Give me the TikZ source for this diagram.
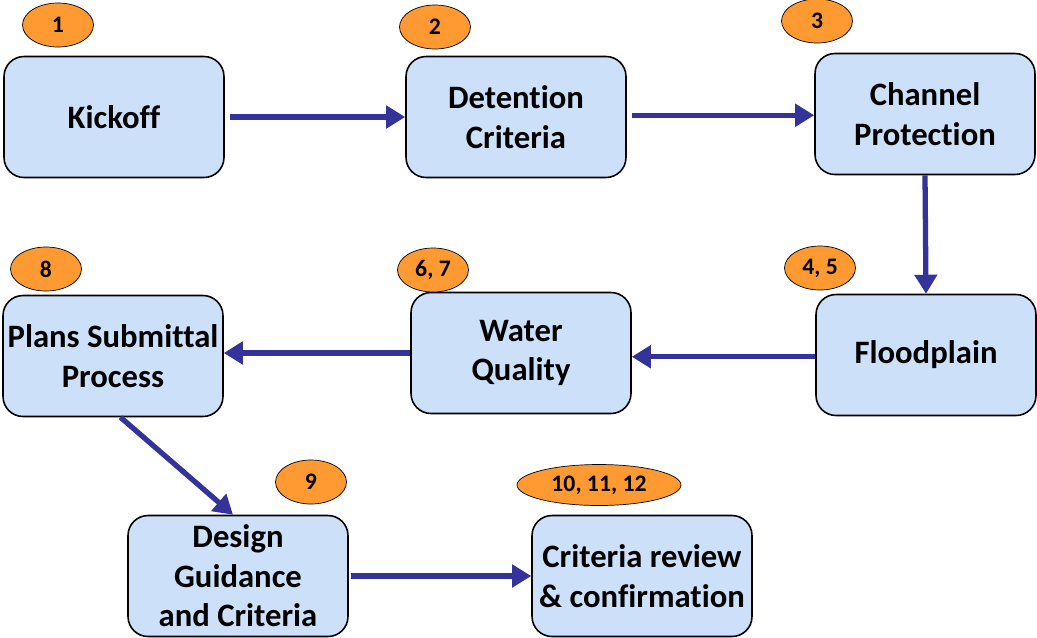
\documentclass[tikz,border=0pt]{standalone}
\usepackage{fontspec}
\setmainfont[Ligatures=NoCommon]{Carlito}
\definecolor{colorTask}{HTML}{CCE0FA}
\definecolor{colorStep}{HTML}{FF9A33}
\definecolor{colorFlow}{HTML}{333399}
\usetikzlibrary{arrows.meta, positioning, shapes.geometric}
\tikzset{
  task/.style={draw, line width=0.9pt, rounded corners=0.4cm, fill=colorTask, minimum width=4.4cm, minimum height=2.42cm, inner sep=1.5pt, align=center, font=\fontsize{18.6}{22.5}\selectfont\bfseries},
  stepno/.style={draw, ellipse, fill=colorStep, minimum width=1.42cm, minimum height=0.88cm, inner sep=0pt, font=\fontsize{13.5}{15}\selectfont\bfseries},
  flow/.style={-{Triangle[length=0.38cm, width=0.44cm]}, colorFlow, line width=3pt}
}

\begin{document}
\begin{tikzpicture}[x=0.02cm, y=-0.02cm]
\useasboundingbox (0,0) rectangle (1037,637);
% process steps
\node[task] (kickoff) at (114,117) {Kickoff};
\node[task] (detention) at (516,117) {Detention\\Criteria};
\node[task] (channel) at (925,114) {Channel\\Protection};
\node[task] (floodplain) at (926,355) {Floodplain};
\node[task] (quality) at (521,353) {Water\\Quality};
\node[task] (plans) at (113,356) {Plans Submittal\\Process};
\node[task] (design) at (238,576) {Design\\Guidance\\and Criteria};
\node[task] (review) at (642,576) {Criteria review\\\& confirmation};
% step numbers
\node[stepno] (n1) at (58,25) {1};
\node[stepno] (n2) at (435,27) {2};
\node[stepno] (n3) at (817,21) {3};
\node[stepno] (n45) at (820,268) {4, 5};
\node[stepno] (n67) at (433,270) {6, 7};
\node[stepno] (n8) at (46,269) {8};
\node[stepno] (n9) at (311,482) {9};
\node[stepno, minimum width=3.28cm, minimum height=0.82cm] (n1012) at (599,485) {10, 11, 12};
% flow
\draw[flow, shorten <=0.1cm] (kickoff.east) -- (kickoff.east -| detention.west);
\draw[flow, shorten <=0.1cm] ([yshift=1pt]detention.east) -- ([yshift=1pt]detention.east -| channel.west);
\draw[flow] (channel.south) -- (floodplain.north);
\draw[flow] ([yshift=-1pt]floodplain.west) -- ([yshift=-1pt]floodplain.west -| quality.east);
\draw[flow] (quality.west) -- (quality.west -| plans.east);
\draw[flow] ([xshift=0.15cm]plans.south) -- ([xshift=-0.1cm]design.north);
\draw[flow, shorten <=0.05cm] (design.east) -- (design.east -| review.west);
\end{tikzpicture}
\end{document}
